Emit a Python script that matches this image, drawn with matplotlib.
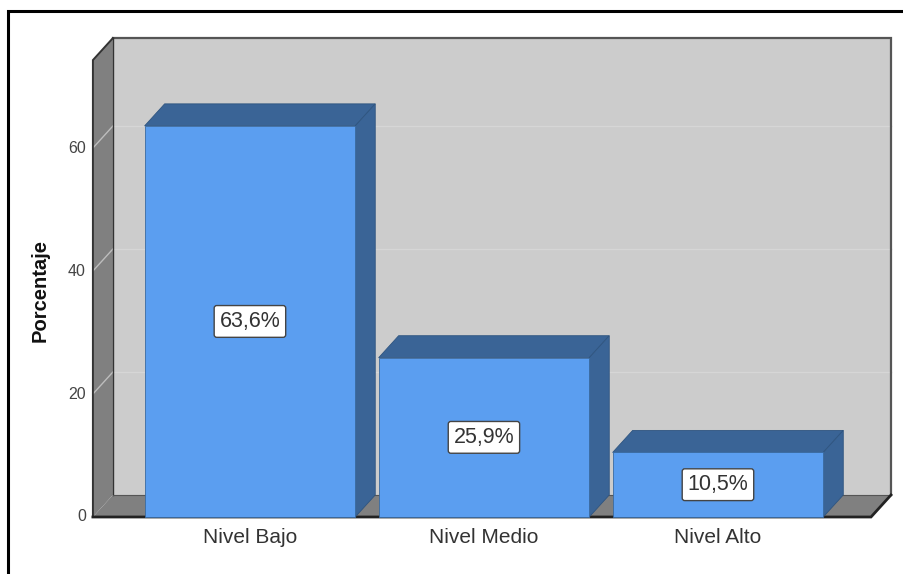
import matplotlib.pyplot as plt
from matplotlib.patches import Polygon
from matplotlib.lines import Line2D

# Nivel distribution (percent of cases)
categorias = ['Nivel Bajo', 'Nivel Medio', 'Nivel Alto']
porcentajes = [63.6, 25.9, 10.5]
ticks_y = [0, 20, 40, 60]

plt.rcParams['font.family'] = ['Liberation Sans', 'DejaVu Sans']

# colours for the 3D look
c_frente = '#5b9ef0'
c_lado = '#3a6496'
c_fondo = '#cccccc'
c_pared = '#808080'
c_grid = '#d6d6d6'

# 3D frame: front plane limits and depth offset (data units)
x_izq, x_der = -0.671, 2.654
y_top = 74.3
dx, dy = 0.0855, 3.58
ancho = 0.9

fig = plt.figure(figsize=(9.04, 5.74), dpi=100)
ax = fig.add_axes([0, 0, 1, 1])
ax.set_xlim(-1.068, 2.795)
ax.set_ylim(-9.27, 84.07)
ax.axis('off')


def poly(pts, fc, ec='none', lw=0.0, z=1):
    ax.add_patch(Polygon(pts, closed=True, facecolor=fc, edgecolor=ec,
                         linewidth=lw, zorder=z, joinstyle='miter'))


# back wall
poly([(x_izq + dx, dy), (x_der + dx, dy), (x_der + dx, y_top + dy), (x_izq + dx, y_top + dy)],
     c_fondo, z=1)
# left side wall
poly([(x_izq, 0), (x_izq, y_top), (x_izq + dx, y_top + dy), (x_izq + dx, dy)], c_pared, z=2)
# floor
poly([(x_izq, 0), (x_der, 0), (x_der + dx, dy), (x_izq + dx, dy)], c_pared, z=2)

# gridlines on side wall and back wall
for t in ticks_y[1:]:
    ax.plot([x_izq, x_izq + dx], [t, t + dy], color='#bdbdbd', lw=1.0, zorder=3)
    ax.plot([x_izq + dx, x_der + dx], [t + dy, t + dy], color=c_grid, lw=1.0, zorder=3)

# edges of the box
ax.plot([x_izq + dx, x_der + dx, x_der + dx], [y_top + dy, y_top + dy, dy],
        color='#555555', lw=1.6, zorder=3, solid_joinstyle='miter')
ax.plot([x_izq + dx, x_izq + dx], [dy, y_top + dy], color='#333333', lw=1.0, zorder=3)
ax.plot([x_izq + dx, x_der + dx], [dy, dy], color='#555555', lw=0.8, zorder=3)
ax.plot([x_izq, x_izq, x_izq + dx], [0, y_top, y_top + dy],
        color='#333333', lw=1.4, zorder=3, solid_joinstyle='miter')
ax.plot([x_izq, x_der, x_der + dx], [0, 0, dy],
        color='#222222', lw=2.0, zorder=3, solid_joinstyle='miter')

# bars
for i, v in enumerate(porcentajes):
    x0, x1 = i - ancho / 2, i + ancho / 2
    poly([(x0, v), (x1, v), (x1 + dx, v + dy), (x0 + dx, v + dy)], c_lado, '#2f5580', 0.6, z=4)
    poly([(x1, 0), (x1 + dx, dy), (x1 + dx, v + dy), (x1, v)], c_lado, '#2f5580', 0.6, z=4)
    poly([(x0, 0), (x1, 0), (x1, v), (x0, v)], c_frente, '#3a6aa0', 0.6, z=5)
    etiqueta = f'{v:.1f}%'.replace('.', ',')
    ax.text(i, v / 2, etiqueta, ha='center', va='center', fontsize=15.5, color='#333333', zorder=6,
            bbox=dict(boxstyle='round,pad=0.25,rounding_size=0.12', fc='white', ec='#444444', lw=1.0))
    ax.text(i, -3.3, categorias[i], ha='center', va='center', fontsize=15, color='#333333')

# y tick labels
for t in ticks_y:
    ax.text(x_izq - 0.03, t, str(t), ha='right', va='center', fontsize=11.5, color='#444444')

ax.text(-0.897, 36.9, 'Porcentaje', rotation=90, ha='center', va='center',
        fontsize=14.5, fontweight='bold', color='#111111')

# outer frame (left and top edges)
fig.add_artist(Line2D([8 / 904, 8 / 904, 1.0], [0.0, 1 - 11 / 574, 1 - 11 / 574],
                      transform=fig.transFigure, color='black', lw=2.2, solid_joinstyle='miter'))

fig.savefig('out.png', dpi=100, facecolor='white')
